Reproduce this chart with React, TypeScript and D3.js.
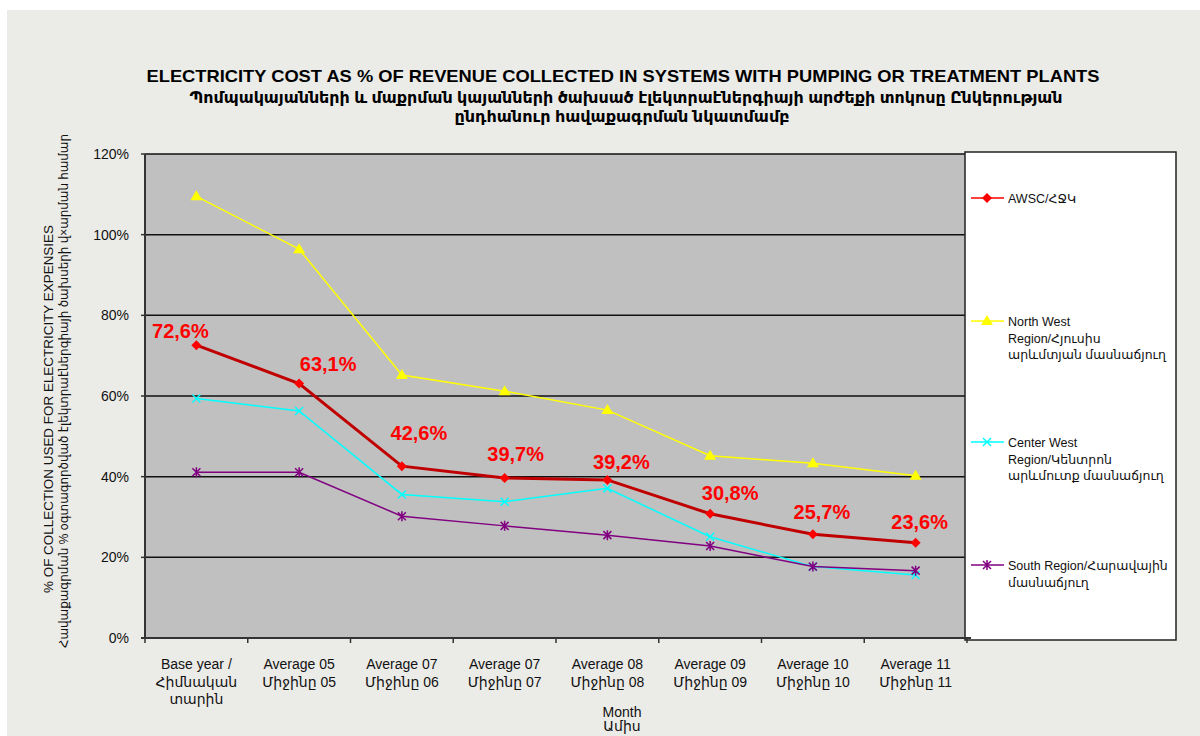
import React from "react";
import * as d3 from "d3";

// chart data
const categories = ["base", "avg05", "avg06", "avg07", "avg08", "avg09", "avg10", "avg11"];
const categoryLabels = [
  ["Base year /", "Հիմնական", "տարին"],
  ["Average 05", "Միջինը 05"],
  ["Average 07", "Միջինը 06"],
  ["Average 07", "Միջինը 07"],
  ["Average 08", "Միջինը 08"],
  ["Average 09", "Միջինը 09"],
  ["Average 10", "Միջինը 10"],
  ["Average 11", "Միջինը 11"],
];
const awsc = [72.6, 63.1, 42.6, 39.7, 39.2, 30.8, 25.7, 23.6];
const northWest = [109.5, 96.4, 65.2, 61.2, 56.5, 45.2, 43.3, 40.2];
const centerWest = [59.4, 56.3, 35.6, 33.8, 37.1, 25.1, 17.7, 15.6];
const south = [41.1, 41.1, 30.2, 27.8, 25.5, 22.8, 17.7, 16.7];
const awscLabels = ["72,6%", "63,1%", "42,6%", "39,7%", "39,2%", "30,8%", "25,7%", "23,6%"];
const yTicks = [0, 20, 40, 60, 80, 100, 120];

// label nudges relative to the AWSC markers (as placed by hand in the original)
const labelNudge = [
  [-16, -7], [29, -12], [17, -26], [11, -17], [14, -11], [20, -14], [9, -15], [4, -14],
];

const W = 1200;
const H = 736;
const plot = { left: 145, right: 967, top: 154, bottom: 638 };
const FONT = "Arial, 'Liberation Sans', 'DejaVu Sans', sans-serif";

function marker(kind: string, color: string) {
  if (kind === "diamond") return <path d="M0,-5L5,0L0,5L-5,0Z" fill={color} />;
  if (kind === "triangle") return <path d="M0,-6L6,4L-6,4Z" fill={color} />;
  if (kind === "x") return <path d="M-4,-4L4,4M-4,4L4,-4" stroke={color} strokeWidth={1.5} fill="none" />;
  return <path d="M-4,-4L4,4M-4,4L4,-4M0,-5L0,5" stroke={color} strokeWidth={1.5} fill="none" />;
}

const series = [
  { name: ["AWSC/ՀՋԿ"], values: awsc, line: "#c00000", mark: "#ff0000", legendLine: "#ff0000", width: 3, kind: "diamond", ly: 199 },
  { name: ["North West", "Region/Հյուսիս", "արևմտյան մասնաճյուղ"], values: northWest, line: "#ffff00", mark: "#ffff00", legendLine: "#ffff00", width: 1.5, kind: "triangle", ly: 322 },
  { name: ["Center West", "Region/Կենտրոն", "արևմուտք մասնաճյուղ"], values: centerWest, line: "#00ffff", mark: "#00ffff", legendLine: "#00ffff", width: 1.5, kind: "x", ly: 443 },
  { name: ["South Region/Հարավային", "մասնաճյուղ"], values: south, line: "#800080", mark: "#800080", legendLine: "#800080", width: 1.5, kind: "star", ly: 566 },
];

export default function App() {
  const x = d3.scaleBand().domain(categories).range([plot.left, plot.right]);
  const y = d3.scaleLinear().domain([0, 120]).range([plot.bottom, plot.top]);
  const cx = (i: number) => (x(categories[i]) as number) + x.bandwidth() / 2;

  const line = d3
    .line<number>()
    .x((_, i) => cx(i))
    .y((d) => y(d));

  const drawOrder = [1, 2, 3, 0];

  return (
    <div style={{ position: "absolute", left: 0, top: 0 }}>
      <svg width={W} height={H} style={{ display: "block" }}>
        <rect x={0} y={0} width={W} height={H} fill="#ffffff" />
        <rect x={7} y={10} width={W - 7} height={H - 10} fill="#ebebe8" />

        {/* titles */}
        <g fontFamily={FONT} fontWeight="bold" fill="#000" textAnchor="middle">
          <text x={623} y={82} fontSize={17} textLength={953} lengthAdjust="spacingAndGlyphs">
            ELECTRICITY COST AS % OF REVENUE COLLECTED IN SYSTEMS WITH PUMPING OR TREATMENT PLANTS
          </text>
          <text x={626} y={103} fontSize={16} textLength={873} lengthAdjust="spacingAndGlyphs">
            Պոմպակայանների և մաքրման կայանների ծախսած էլեկտրաէներգիայի արժեքի տոկոսը Ընկերության
          </text>
          <text x={622} y={122} fontSize={16} textLength={335} lengthAdjust="spacingAndGlyphs">
            ընդհանուր հավաքագրման նկատմամբ
          </text>
        </g>

        {/* plot area */}
        <rect
          x={plot.left}
          y={plot.top}
          width={plot.right - plot.left}
          height={plot.bottom - plot.top}
          fill="#c0c0c0"
        />
        {yTicks.slice(1).map((t) => (
          <line key={t} x1={plot.left} x2={plot.right} y1={y(t)} y2={y(t)} stroke="#111" strokeWidth={1.5} />
        ))}

        {/* legend box */}
        <rect x={965} y={152} width={211} height={488} fill="#ffffff" stroke="#222" strokeWidth={1.5} />
        {series.map((s) => (
          <g key={s.name[0]} fontFamily={FONT} fontSize={12.5} fill="#111">
            <line x1={971} x2={1004} y1={s.ly - 1} y2={s.ly - 1} stroke={s.legendLine} strokeWidth={1.5} />
            <g transform={`translate(987,${s.ly - 1})`}>{marker(s.kind, s.mark)}</g>
            {s.name.map((n, j) => (
              <text key={j} x={1008} y={s.ly + 4 + j * 16.5}>
                {n}
              </text>
            ))}
          </g>
        ))}

        {/* axes */}
        <line x1={plot.left} x2={plot.left} y1={plot.top} y2={plot.bottom + 1} stroke="#333" strokeWidth={2} />
        <line x1={plot.left - 4} x2={plot.right + 4} y1={plot.bottom} y2={plot.bottom} stroke="#333" strokeWidth={2} />
        {yTicks.map((t) => (
          <g key={t}>
            <line x1={plot.left - 4} x2={plot.left} y1={y(t)} y2={y(t)} stroke="#333" strokeWidth={1.5} />
            <text x={129} y={y(t) + 5} textAnchor="end" fontFamily={FONT} fontSize={14} fill="#111">
              {t}%
            </text>
          </g>
        ))}
        {categories.map((c) => (
          <line
            key={c}
            x1={x(c) as number}
            x2={x(c) as number}
            y1={plot.bottom}
            y2={plot.bottom + 5}
            stroke="#333"
            strokeWidth={1.5}
          />
        ))}
        <line x1={plot.right} x2={plot.right} y1={plot.bottom} y2={plot.bottom + 5} stroke="#333" strokeWidth={1.5} />

        {/* category labels */}
        <g fontFamily={FONT} fontSize={14} fill="#111" textAnchor="middle">
          {categoryLabels.map((lines, i) =>
            lines.map((l, j) => (
              <text key={`${i}-${j}`} x={cx(i)} y={669 + j * 17.5}>
                {l}
              </text>
            ))
          )}
          <text x={622} y={717}>Month</text>
          <text x={622} y={731}>Ամիս</text>
        </g>

        {/* y axis title */}
        <g fontFamily={FONT} fontSize={13} fill="#111" textAnchor="middle">
          <text transform="translate(53,409) rotate(-90)" textLength={368} lengthAdjust="spacingAndGlyphs">
            % OF COLLECTION USED FOR ELECTRICITY EXPENSIES
          </text>
          <text transform="translate(68,391) rotate(-90)" textLength={514} lengthAdjust="spacingAndGlyphs">
            Հավաքագրման % օգտագործված էլեկտրաէներգիայի ծախսերի վ×արման համար
          </text>
        </g>

        {/* series */}
        {drawOrder.map((k) => {
          const s = series[k];
          return (
            <g key={s.name[0]}>
              <path d={line(s.values) || ""} fill="none" stroke={s.line} strokeWidth={s.width} />
              {s.values.map((v, i) => (
                <g key={i} transform={`translate(${cx(i)},${y(v)})`}>
                  {marker(s.kind, s.mark)}
                </g>
              ))}
            </g>
          );
        })}

        {/* AWSC value labels */}
        <g fontFamily={FONT} fontSize={20} fontWeight="bold" fill="#ff0000" textAnchor="middle">
          {awsc.map((v, i) => (
            <text key={i} x={cx(i) + labelNudge[i][0]} y={y(v) + labelNudge[i][1]}>
              {awscLabels[i]}
            </text>
          ))}
        </g>
      </svg>
    </div>
  );
}
